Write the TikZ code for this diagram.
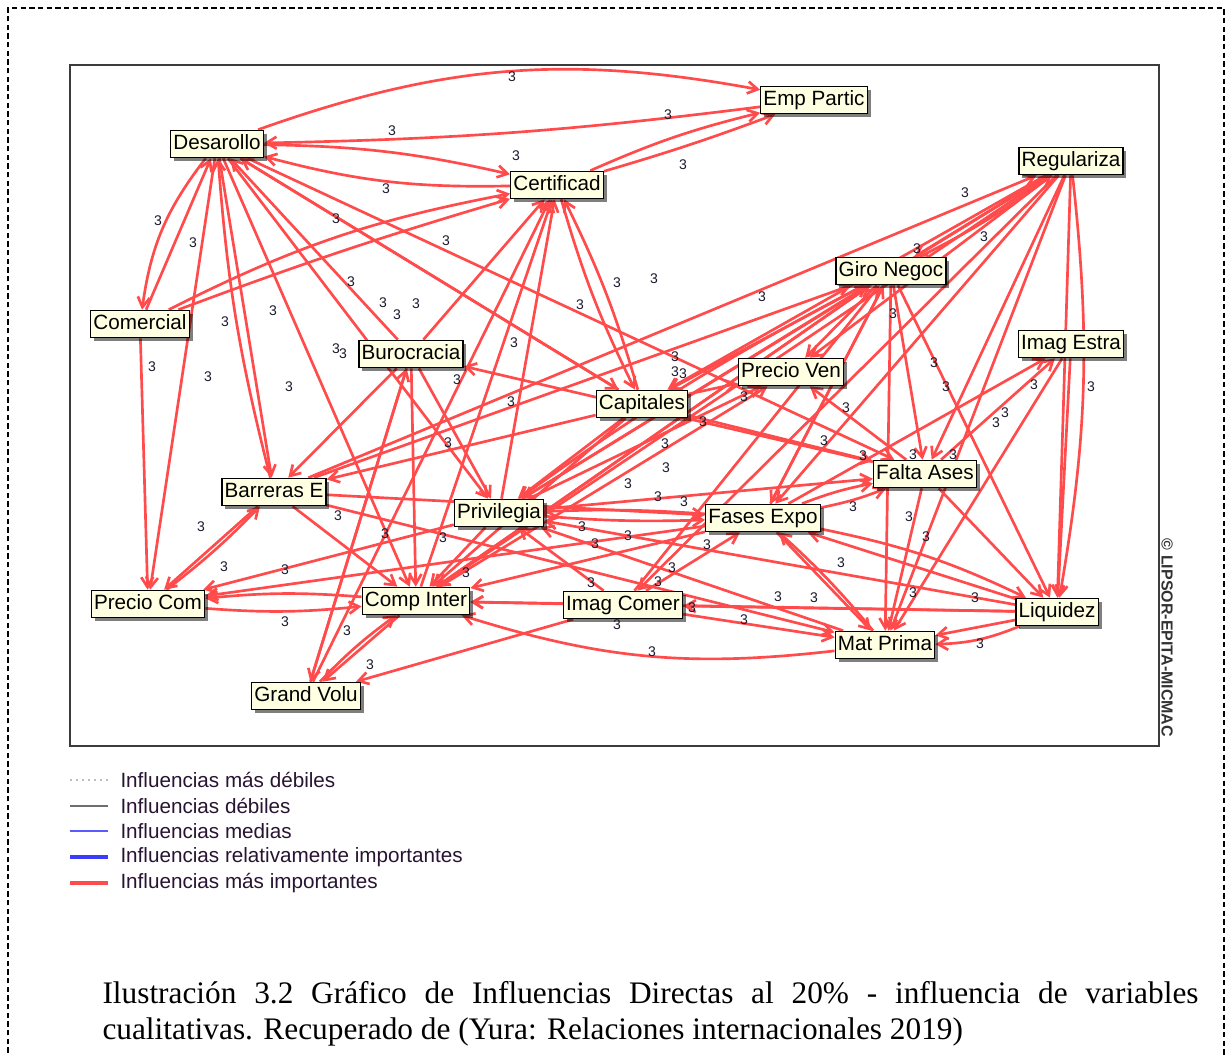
\documentclass[tikz,border=0pt]{standalone}
\usepackage{fontspec}
\setmainfont{Liberation Sans}
\newfontfamily\captionfont{Liberation Serif}
\usetikzlibrary{arrows.meta,shadows,backgrounds}

\tikzset{every picture/.style={line width=0.75pt}}
\tikzset{
  varbox/.style={draw=black, line width=1pt, fill={rgb, 255:red, 255; green, 255; blue, 225 },
    font=\fontsize{15.5}{17}\selectfont, text height=11.5pt, text depth=3pt, inner xsep=2pt, inner ysep=3pt,
    drop shadow={shadow xshift=2.5pt, shadow yshift=-2.5pt, opacity=0.5, fill=black}},
  infl/.style={draw={rgb, 255:red, 255; green, 75; blue, 75 }, line width=2pt,
    -{Straight Barb[length=7.5pt,width=9pt]}},
  value/.style={font=\fontsize{10.5}{11}\selectfont, inner sep=0pt, text={rgb, 255:red, 25; green, 25; blue, 45 }},
  legtext/.style={font=\fontsize{15.5}{17}\selectfont, anchor=west, inner sep=0pt, text={rgb, 255:red, 40; green, 20; blue, 50 }},
}

\begin{document}
\begin{tikzpicture}[x=0.75pt,y=0.75pt,yscale=-1,xscale=1]
	\useasboundingbox (0,0) rectangle (1231,1056);

	%Dashed border
	\draw [dash pattern=on 4pt off 2.5pt, line width=1pt] (8,1070) -- (8,8) -- (1224,8) -- (1224,1070) ;
	%Frame
	\draw [draw={rgb, 255:red, 60; green, 60; blue, 60 }, line width=1.2pt] (70,65) rectangle (1159,746) ;

	% Variables
	\node[varbox] (des)   at (217,144) {Desarollo};
	\node[varbox] (emp)   at (814,100) {Emp Partic};
	\node[varbox] (cert)  at (557,185) {Certificad};
	\node[varbox] (reg)   at (1071,161) {Regulariza};
	\node[varbox] (giro)  at (891,271) {Giro Negoc};
	\node[varbox] (com)   at (140,324) {Comercial};
	\node[varbox] (imge)  at (1071,344) {Imag Estra};
	\node[varbox] (buro)  at (411,354) {Burocracia};
	\node[varbox] (pven)  at (791,372) {Precio Ven};
	\node[varbox] (cap)   at (642,404) {Capitales};
	\node[varbox] (falta) at (925,474) {Falta Ases};
	\node[varbox] (barr)  at (274,492) {Barreras E};
	\node[varbox] (priv)  at (499,513) {Privilegia};
	\node[varbox] (fases) at (763,518) {Fases Expo};
	\node[varbox] (pcom)  at (148,604) {Precio Com};
	\node[varbox] (comp)  at (416,601) {Comp Inter};
	\node[varbox] (imgc)  at (623,605) {Imag Comer};
	\node[varbox] (liq)   at (1057,612) {Liquidez};
	\node[varbox] (mat)   at (885,645) {Mat Prima};
	\node[varbox] (grand) at (306,696) {Grand Volu};

	% Influences
	\begin{scope}[on background layer]
	\foreach \from/\to in {des/pcom, des/barr, des/comp, des/priv, buro/des, des/cap, cap/des, des/falta, com/des, com/pcom,
		buro/cert, priv/cert, comp/cert, grand/cert,
		barr/reg, reg/giro, reg/pven, reg/cap, reg/priv, reg/comp, reg/fases, reg/falta, reg/mat, reg/liq, reg/imgc,
		giro/pven, giro/cap, priv/giro, giro/comp, giro/fases, fases/giro, giro/falta, giro/mat, giro/liq, imgc/giro, barr/giro, comp/giro,
		fases/imge, falta/imge, imge/liq, imge/mat,
		cap/pven, priv/pven, falta/pven, comp/pven,
		cap/falta, cap/barr, cap/priv, cap/comp, falta/buro,
		priv/falta, falta/mat, falta/liq,
		buro/barr, barr/pcom, barr/fases, barr/mat, barr/comp,
		buro/priv, priv/comp, priv/pcom, liq/priv, mat/priv, imgc/priv,
		fases/comp, fases/mat, liq/fases, fases/pcom, imgc/fases,
		buro/comp, comp/grand, imgc/comp, liq/comp,
		imgc/grand, imgc/mat, liq/imgc,
		buro/grand, grand/buro, liq/mat}
		\draw[infl] (\from) -- (\to);
	\draw[infl] (des) to[bend right=15] (emp);
	\draw[infl] (emp) to[bend right=3] (des);
	\draw[infl] (des) to[bend right=6] (cert);
	\draw[infl] (cert) to[bend right=8] (des);
	\draw[infl] (des) to[bend left=15] (com);
	\draw[infl] (com) to[bend right=8] (cert);
	\draw[infl] (com) to[bend right=2] (cert);
	\draw[infl] (cert) to[bend right=5] (emp);
	\draw[infl] (cert) to[bend left=2] (emp);
	\draw[infl] (barr) to[bend right=5] (des);
	\draw[infl] (cert) to[bend left=5] (cap);
	\draw[infl] (cap) to[bend left=5] (cert);
	\draw[infl] (giro) to[bend left=5] (reg);
	\draw[infl] (giro) to[bend left=4] (priv);
	\draw[infl] (reg) to[bend right=8] (liq);
	\draw[infl] (pcom) to[bend left=5] (comp);
	\draw[infl] (comp) to[bend left=5] (pcom);
	\draw[infl] (pcom) to[bend left=4] (barr);
	\draw[infl] (priv) to[bend left=3] (fases);
	\draw[infl] (fases) to[bend left=3] (priv);
	\draw[infl] (fases) to[bend left=5] (falta);
	\draw[infl] (fases) to[bend right=5] (falta);
	\draw[infl] (mat) to[bend left=4] (fases);
	\draw[infl] (fases) to[bend right=7] (liq);
	\draw[infl] (liq) to[bend right=10] (mat);
	\draw[infl] (mat) to[bend right=12] (comp);
	\draw[infl] (grand) to[bend right=5] (comp);
	\end{scope}

	% Values
	\foreach \x/\y [count=\i] in {512/77, 392/131, 668/115, 516/156, 683/165, 386/189,
		158/221, 336/219, 193/243, 446/241, 965/193, 984/237, 917/249,
		654/279, 617/283, 580/305, 762/297, 351/282, 383/303, 397/315, 416/304, 273/311, 225/322,
		152/367, 208/377, 289/387, 336/349, 343/354, 457/380, 514/343, 511/402, 448/443,
		893/314, 934/363, 946/387, 1034/385, 1091/387, 996/423, 1005/413,
		675/357, 675/372, 683/374, 744/397, 703/422, 846/408, 824/441, 863/456, 913/455, 953/455,
		665/444, 666/468, 628/484, 658/497, 684/502,
		338/516, 385/534, 443/538, 582/527, 595/544, 628/536, 707/545,
		201/527, 224/567, 285/570, 466/573, 591/583, 672/568, 658/582, 692/608, 617/625, 652/652, 744/620,
		347/631, 370/665, 285/622,
		778/597, 814/598, 841/563, 853/507, 909/517, 926/537, 913/593, 975/598, 980/644}
		\node[value] (v\i) at (\x,\y) {3};

	% Copyright
	\node[rotate=-90, font=\fontsize{12}{13}\selectfont\bfseries, text={rgb, 255:red, 50; green, 50; blue, 50 }, inner sep=0pt] (micmac) at (1167,638) {© LIPSOR-EPITA-MICMAC};

	% Legend
	\draw [draw={rgb, 255:red, 190; green, 190; blue, 190 }, dash pattern=on 1.5pt off 3pt, line width=0.8pt] (70,780) -- (108,780) ;
	\draw [draw={rgb, 255:red, 110; green, 110; blue, 110 }, line width=1.2pt] (70,806) -- (108,806) ;
	\draw [draw={rgb, 255:red, 90; green, 90; blue, 255 }, line width=1pt] (70,831) -- (108,831) ;
	\draw [draw={rgb, 255:red, 60; green, 60; blue, 255 }, line width=2.5pt] (70,857) -- (108,857) ;
	\draw [draw={rgb, 255:red, 255; green, 75; blue, 75 }, line width=2.5pt] (70,883) -- (108,883) ;
	\node[legtext] (leg1) at (120,780) {Influencias más débiles};
	\node[legtext] (leg2) at (120,806) {Influencias débiles};
	\node[legtext] (leg3) at (120,831) {Influencias medias};
	\node[legtext] (leg4) at (120,857) {Influencias relativamente importantes};
	\node[legtext] (leg5) at (120,883) {Influencias más importantes};

	% Caption
	\node[anchor=north west, inner sep=0pt, text width=822pt, align=justify, font=\captionfont\fontsize{23.5}{27}\selectfont] (capt) at (102,981)
		{Ilustración 3.2 Gráfico de Influencias Directas al 20\% - influencia de variables\linebreak cualitativas. Recuperado de (Yura: Relaciones internacionales 2019)};

\end{tikzpicture}
\end{document}
